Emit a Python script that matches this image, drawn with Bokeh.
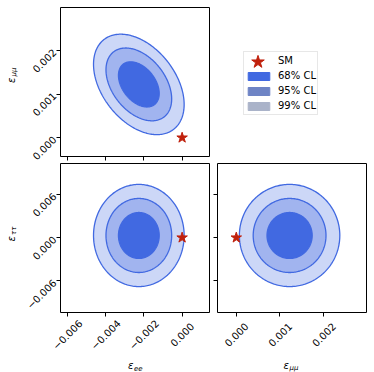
import numpy as np
from bokeh.plotting import figure
from bokeh.models import FixedTicker, Label, Legend, LegendItem, Range1d
from bokeh.core.properties import value
from bokeh.layouts import column, row
from bokeh.embed import file_html
from bokeh.resources import INLINE

# ---------------- data ----------------
param_names = ["ee", "mumu", "tautau"]
param_subscripts = ["ee", "μμ", "ττ"]
center_values = [-0.00226, 0.00122, 0.0003]
sigma_values = [0.0007, 0.00034, 0.0021]
corr_ee_mumu = -0.4
corr_ee_tautau = 0.0
corr_mumu_tautau = 0.0
cl_labels = ["68% CL", "95% CL", "99% CL"]
cl_radii = [1.52, 2.45, 3.38]          # Mahalanobis radius of each CL contour
sm_values = [0.0, 0.0, 0.0]
sm_label = "SM"

ee_ticks = [-0.006, -0.004, -0.002, 0.0]
ee_tick_labels = ["−0.006", "−0.004", "−0.002", "0.000"]
mumu_ticks = [0.0, 0.001, 0.002]
mumu_tick_labels = ["0.000", "0.001", "0.002"]
tautau_ticks = [-0.006, 0.0, 0.006]
tautau_tick_labels = ["−0.006", "0.000", "0.006"]

ee_limits = [-0.00635, 0.00143]
mumu_limits = [-0.00043, 0.00298]
tautau_limits = [-0.0104, 0.0103]

# ---------------- style ----------------
FONT = "DejaVu Sans"
fill_colors = ["#4169E1", "#A1B4EF", "#CCD7F7"]
legend_colors = ["#4169E1", "#6E84C5", "#AAB3C9"]
edge_color = "#4169E1"
star_color = "#C0200C"

ticks = {"ee": ee_ticks, "mumu": mumu_ticks, "tautau": tautau_ticks}
tick_labels = {"ee": ee_tick_labels, "mumu": mumu_tick_labels, "tautau": tautau_tick_labels}
limits = {"ee": ee_limits, "mumu": mumu_limits, "tautau": tautau_limits}
idx = {n: i for i, n in enumerate(param_names)}
corr = {("ee", "mumu"): corr_ee_mumu, ("ee", "tautau"): corr_ee_tautau,
        ("mumu", "tautau"): corr_mumu_tautau}
T = np.linspace(0, 2 * np.pi, 241)


def contour(xn, yn, k):
    mx, my = center_values[idx[xn]], center_values[idx[yn]]
    sx, sy = sigma_values[idx[xn]], sigma_values[idx[yn]]
    rho = corr[(xn, yn)]
    xs = mx + k * sx * np.cos(T)
    ys = my + k * sy * (rho * np.cos(T) + np.sqrt(1 - rho ** 2) * np.sin(T))
    return xs, ys


def style_axis(ax, name, show_labels):
    ax.ticker = FixedTicker(ticks=ticks[name], minor_ticks=[])
    ax.major_label_overrides = {t: l for t, l in zip(ticks[name], tick_labels[name])}
    ax.axis_line_color = None
    ax.major_tick_in = 0
    ax.major_tick_out = 4
    ax.minor_tick_in = 0
    ax.minor_tick_out = 0
    ax.major_tick_line_color = "black"
    ax.major_tick_line_width = 1
    ax.major_label_text_font = FONT
    ax.major_label_orientation = np.pi / 4
    if show_labels:
        ax.major_label_text_color = "black"
        ax.major_label_text_font_size = "10px"
        ax.major_label_standoff = 2
    else:
        ax.major_label_text_color = None
        ax.major_label_text_font_size = "0px"
        ax.major_label_standoff = 0


def strip(width, height, x_range=None, y_range=None, borders=(0, 0, 0, 0)):
    left, right, top, bottom = borders
    s = figure(width=width, height=height, output_backend="svg", toolbar_location=None,
               x_axis_location=None, y_axis_location=None,
               x_range=x_range or Range1d(0, width), y_range=y_range or Range1d(0, height),
               min_border_left=left, min_border_right=right,
               min_border_top=top, min_border_bottom=bottom)
    s.grid.visible = False
    s.outline_line_color = None
    return s


def add_axis_title(p, sub, x, y, vertical):
    kw = dict(x_units="screen", y_units="screen", text_font=FONT,
              text_font_style="italic", text_color="black", text_align="left",
              text_baseline="alphabetic")
    if vertical:
        p.add_layout(Label(x=x, y=y, text="ε", text_font_size="10px", angle=np.pi / 2, **kw))
        p.add_layout(Label(x=x + 2.5, y=y + 6.5, text=sub, text_font_size="7px", angle=np.pi / 2, **kw))
    else:
        p.add_layout(Label(x=x, y=y, text="ε", text_font_size="10px", **kw))
        p.add_layout(Label(x=x + 6, y=y - 2.5, text=sub, text_font_size="7px", **kw))


def make_panel(xn, yn, width, height, borders, show_y):
    left, right, top, bottom = borders
    p = figure(width=width, height=height,
               x_range=Range1d(*limits[xn]), y_range=Range1d(*limits[yn]),
               output_backend="svg", toolbar_location=None,
               min_border_left=left, min_border_right=right,
               min_border_top=top, min_border_bottom=bottom)
    p.grid.visible = False
    p.outline_line_color = "black"
    p.outline_line_width = 1
    p.outline_line_alpha = 1
    style_axis(p.xaxis[0], xn, False)
    style_axis(p.yaxis[0], yn, show_y)
    for k, fc in zip(cl_radii[::-1], fill_colors[::-1]):
        xs, ys = contour(xn, yn, k)
        p.patch(xs, ys, fill_color=fc, fill_alpha=1, line_color=edge_color, line_width=1.3)
    p.scatter([sm_values[idx[xn]]], [sm_values[idx[yn]]], marker="star", size=11,
              fill_color=star_color, line_color=star_color)
    return p


def tick_strip(name, width, height, left_ext, right_ext, frame_w, label_y):
    lo, hi = limits[name]
    per_px = (hi - lo) / frame_w
    s = strip(width, height, x_range=Range1d(lo - left_ext * per_px, hi + right_ext * per_px))
    s.text(x=ticks[name], y=[label_y] * len(ticks[name]), text=tick_labels[name],
           angle=np.pi / 4, text_align="center", text_baseline="middle",
           text_font=value(FONT), text_font_size="10px", text_color="black")
    return s


# panels (frames are 149 px square)
p_tl = make_panel("ee", "mumu", 195, 162, (42, 4, 7, 6), True)
p_bl = make_panel("ee", "tautau", 195, 155, (42, 4, 1, 5), True)
p_br = make_panel("mumu", "tautau", 161, 155, (4, 8, 1, 5), False)

# y-axis title strips
ys1 = strip(18, 162)
add_axis_title(ys1, param_subscripts[1], 10.5, 73.5, True)
ys2 = strip(18, 155)
add_axis_title(ys2, param_subscripts[2], 11, 71, True)

# x tick-label + title strips (x ranges aligned with the panels above)
xs_l = tick_strip("ee", 213, 55, 60, 4, 149, 38)
add_axis_title(xs_l, param_subscripts[0], 127.5, 7.5, False)
xs_r = tick_strip("mumu", 161, 55, 4, 8, 149, 38)
add_axis_title(xs_r, param_subscripts[1], 70, 7.5, False)

# legend panel: sample glyphs lie outside the panel's visible range
p_lg = strip(161, 162, x_range=Range1d(10, 11), y_range=Range1d(10, 11), borders=(0, 0, 7, 6))
r_sm_hidden = p_lg.scatter([sm_values[0]], [sm_values[1]], marker="star", size=1,
                           fill_alpha=0, line_alpha=0)
items = [LegendItem(label=sm_label, renderers=[r_sm_hidden])]
for k, lab, col in zip(cl_radii, cl_labels, legend_colors):
    cx, cy = contour("ee", "mumu", k)
    r = p_lg.patch(cx, cy, fill_color=col, line_color=col)
    items.append(LegendItem(label=lab, renderers=[r]))
legend = Legend(items=items, location=(30, 41), label_text_font=FONT,
                label_text_font_size="10px", label_text_color="black",
                label_height=15, glyph_height=10, glyph_width=27, label_standoff=6,
                padding=1, margin=0, spacing=0, border_line_color="#d0d0d0",
                border_line_width=1, background_fill_color="white", background_fill_alpha=1)
p_lg.add_layout(legend)

r_sm = p_lg.scatter([sm_values[0]], [sm_values[1]], marker="star", size=14,
                    fill_color=star_color, line_color=star_color)
legend_star = Legend(items=[LegendItem(label=" ", renderers=[r_sm])], location=(22, 78),
                     glyph_height=33, glyph_width=45, label_height=10, label_standoff=0,
                     label_text_font_size="1px", padding=0, margin=0, spacing=0,
                     border_line_color=None, background_fill_alpha=0)
p_lg.add_layout(legend_star)

layout = column(row(ys1, p_tl, p_lg), row(ys2, p_bl, p_br), row(xs_l, xs_r))
open("out.html", "w").write(file_html(layout, INLINE))
